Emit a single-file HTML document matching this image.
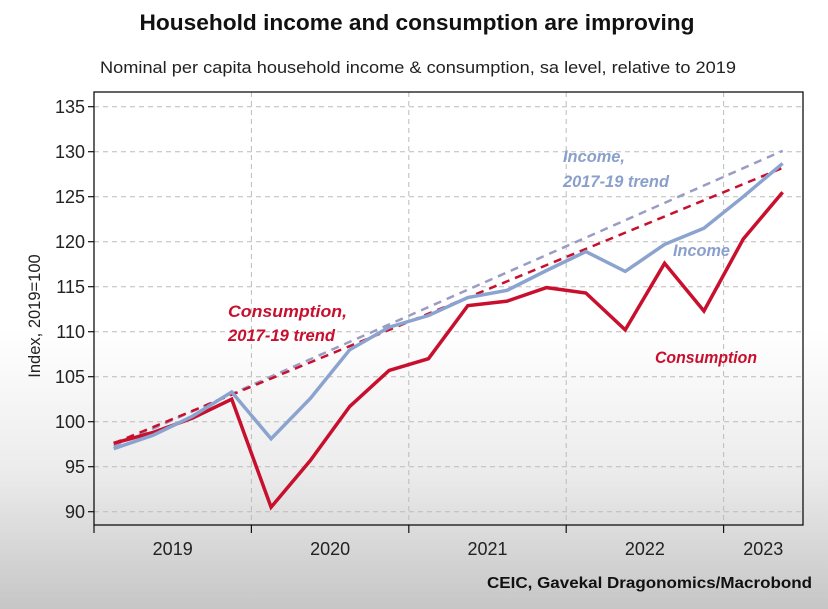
<!DOCTYPE html>
<html><head><meta charset="utf-8">
<style>
html,body{margin:0;padding:0}
body{width:828px;height:609px;overflow:hidden;background:linear-gradient(to bottom,#fff 0px,#fff 330px,#ececec 470px,#c6c6c6 609px);font-family:"Liberation Sans",sans-serif;position:relative}
</style></head><body>
<svg id="chart" width="828" height="609" xmlns="http://www.w3.org/2000/svg" style="position:absolute;left:0;top:0">
<text x="417" y="30" text-anchor="middle" font-size="22.5" font-weight="bold" fill="#111" textLength="555" lengthAdjust="spacingAndGlyphs">Household income and consumption are improving</text>
<text x="418" y="73" text-anchor="middle" font-size="17" fill="#222" textLength="636" lengthAdjust="spacingAndGlyphs">Nominal per capita household income &amp; consumption, sa level, relative to 2019</text>
<g id="grid"></g>
<g id="axes"></g>
<g id="series"></g>
<text transform="translate(40,316) rotate(-90)" text-anchor="middle" font-size="16.5" fill="#222">Index, 2019=100</text>
<g font-size="16.5" font-weight="bold" font-style="italic">
<text x="563" y="162" fill="#8aa0cc" textLength="62" lengthAdjust="spacingAndGlyphs">Income,</text>
<text x="563" y="187" fill="#8aa0cc" textLength="106" lengthAdjust="spacingAndGlyphs">2017-19 trend</text>
<text x="673" y="256" fill="#8aa0cc" textLength="57" lengthAdjust="spacingAndGlyphs">Income</text>
<text x="228" y="317" fill="#c8102e" textLength="119" lengthAdjust="spacingAndGlyphs">Consumption,</text>
<text x="228" y="341" fill="#c8102e" textLength="107" lengthAdjust="spacingAndGlyphs">2017-19 trend</text>
<text x="655" y="363" fill="#c8102e" textLength="102" lengthAdjust="spacingAndGlyphs">Consumption</text>
</g>
<text x="812" y="588" text-anchor="end" font-size="16" font-weight="bold" fill="#111" textLength="325" lengthAdjust="spacingAndGlyphs">CEIC, Gavekal Dragonomics/Macrobond</text>
</svg>
<script>
const yTicks=[90,95,100,105,110,115,120,125,130,135];
const years=["2019","2020","2021","2022","2023"];
const income=[97,98.5,100.6,103.3,98.1,102.6,108,110.5,111.8,113.8,114.6,116.8,118.9,116.7,119.7,121.5,125,128.7];
const consumption=[97.6,98.8,100.4,102.5,90.5,95.7,101.7,105.7,107,112.9,113.4,114.9,114.3,110.2,117.6,112.3,120.3,125.5];
const incomeTrend=[97.3,130.1];
const consumptionTrend=[97.6,128.2];
const NS="http://www.w3.org/2000/svg";
const L=94,R=803,T=92,B=525,Q=39.35;
const y=v=>421.7-(v-100)*9.0;
const x=i=>L+Q*(i+0.5);
function mk(tag,attrs,parent){const e=document.createElementNS(NS,tag);for(const k in attrs)e.setAttribute(k,attrs[k]);parent.appendChild(e);return e;}
const grid=document.getElementById('grid'),axes=document.getElementById('axes'),ser=document.getElementById('series');
yTicks.forEach(v=>{
 const g=mk('line',{x1:L,x2:R,y1:y(v),y2:y(v),stroke:'#bbb','stroke-dasharray':'5,4','stroke-width':1},grid);
 
 
 const tk=mk('line',{x1:L-6,x2:L,y1:y(v),y2:y(v),stroke:'#111','stroke-width':1.2},axes);
 
 
 const t=mk('text',{x:L-9,y:y(v)+6.5,'text-anchor':'end','font-size':18,fill:'#222'},axes);
 t.textContent=v;
 
 
});
years.forEach((yr,i)=>{
 const x0=L+i*4*Q;
 if(i>0){const g=mk('line',{x1:x0,x2:x0,y1:T,y2:B,stroke:'#bbb','stroke-dasharray':'5,4'},grid);
 
 }
 const tk=mk('line',{x1:x0,x2:x0,y1:B,y2:B+8,stroke:'#111','stroke-width':1.2},axes);
 
 
 const x1=Math.min(x0+4*Q,R);
 const t=mk('text',{x:(x0+x1)/2,y:555,'text-anchor':'middle','font-size':18,fill:'#222'},axes);
 t.textContent=yr;
 
 
});
const frame=mk('rect',{x:L,y:T,width:R-L,height:B-T,fill:'none',stroke:'#111','stroke-width':1.3},axes);


const n=income.length;
function line(p,name,stroke,w,dash){const e=mk('polyline',{points:p,fill:'none',stroke:stroke,'stroke-width':w,'stroke-linejoin':'miter'},ser);if(dash)e.setAttribute('stroke-dasharray',dash);
 
 }
line(x(0)+','+y(incomeTrend[0])+' '+x(n-1)+','+y(incomeTrend[1]),'income-trend-line','#9a9cc4',2.5,'8,6');
line(x(0)+','+y(consumptionTrend[0])+' '+x(n-1)+','+y(consumptionTrend[1]),'consumption-trend-line','#c8102e',2.5,'8,6');
line(consumption.map((v,i)=>x(i)+','+y(v)).join(' '),'consumption-line','#c8102e',3.5);
line(income.map((v,i)=>x(i)+','+y(v)).join(' '),'income-line','#8aa4cf',3.5);
</script>
</body></html>
